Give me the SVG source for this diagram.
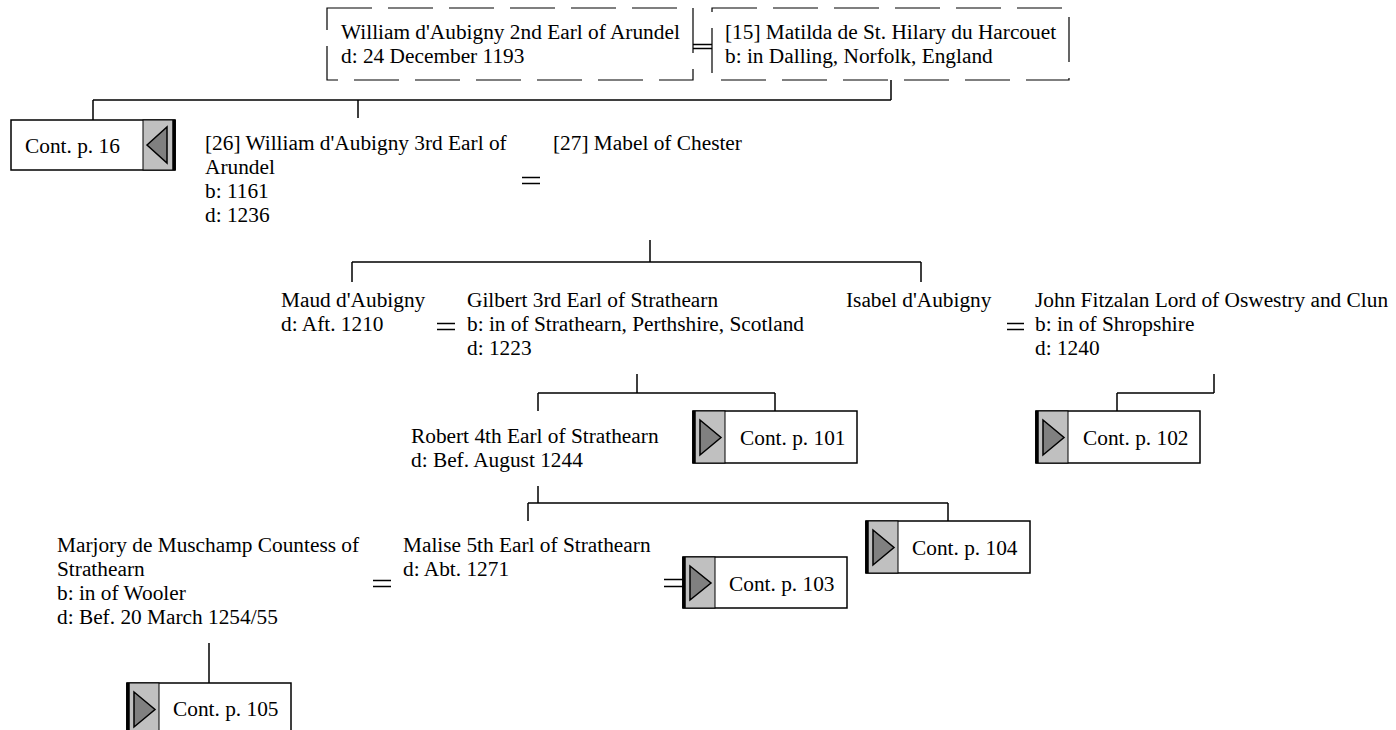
<svg xmlns="http://www.w3.org/2000/svg" width="1396" height="730" viewBox="0 0 1396 730">
<style>
text{font-family:"Liberation Serif","Times New Roman",serif;font-size:21.33px;fill:#000}
.ln{stroke:#000;stroke-width:1.5;fill:none}
.dash{fill:#fff;stroke:#000;stroke-width:1.2;stroke-dasharray:45 16}
.cb{fill:#fff;stroke:#000;stroke-width:1.5}
.gr{fill:#c0c0c0;stroke:#000;stroke-width:1}
.tri{fill:#808080;stroke:#000;stroke-width:1.5;stroke-linejoin:miter}
.thick{stroke:#000;stroke-width:3.5;fill:none}
</style>
<rect width="1396" height="730" fill="#fff"/>
<g id="connectors">
<path class="ln" d="M891,80V100M93,100H891M93,100V120M358,100V118"/>
<path class="ln" d="M693,44.5H712M693,48.5H712"/>
<path class="ln" d="M522,177.5H540M522,183.5H540"/>
<path class="ln" d="M650,240V262M352,262H921M352,262V282M921,262V282"/>
<path class="ln" d="M437,323.5H455M437,329.5H455"/>
<path class="ln" d="M1007,323.5H1024M1007,329.5H1024"/>
<path class="ln" d="M637,374V393M538,393H775M538,393V411M775,393V411"/>
<path class="ln" d="M1214,374V393M1117,393H1214M1117,393V411"/>
<path class="ln" d="M538,486V503M528,503H948M528,503V521M948,503V521"/>
<path class="ln" d="M373,580.5H391M373,586.5H391"/>
<path class="ln" d="M664,579.5H683M664,586.5H683"/>
<path class="ln" d="M209,643V683"/>
</g>
<g id="n_william2">
<rect class="dash" x="327" y="8" width="366" height="72"/>
<text x="341" y="39">William d'Aubigny 2nd Earl of Arundel</text>
<text x="341" y="63">d: 24 December 1193</text>
</g>
<g id="n_matilda">
<rect class="dash" x="712" y="8" width="357" height="72"/>
<text x="725" y="39">[15] Matilda de St. Hilary du Harcouet</text>
<text x="725" y="63">b: in Dalling, Norfolk, England</text>
</g>
<g id="n_cont16">
<rect class="cb" x="11" y="120" width="164" height="50"/>
<rect class="gr" x="143" y="120" width="32" height="50"/>
<path class="thick" d="M174,120V170"/>
<path class="tri" d="M147,145L167,127V163Z"/>
<text x="25" y="153">Cont. p. 16</text>
</g>
<g id="n_william3">
<text x="205" y="150">[26] William d'Aubigny 3rd Earl of</text>
<text x="205" y="174">Arundel</text>
<text x="205" y="198">b: 1161</text>
<text x="205" y="222">d: 1236</text>
</g>
<g id="n_mabel">
<text x="553" y="150">[27] Mabel of Chester</text>
</g>
<g id="n_maud">
<text x="281" y="307">Maud d'Aubigny</text>
<text x="281" y="331">d: Aft. 1210</text>
</g>
<g id="n_gilbert">
<text x="467" y="307">Gilbert 3rd Earl of Strathearn</text>
<text x="467" y="331">b: in of Strathearn, Perthshire, Scotland</text>
<text x="467" y="355">d: 1223</text>
</g>
<g id="n_isabel">
<text x="846" y="307">Isabel d'Aubigny</text>
</g>
<g id="n_john">
<text x="1035" y="307">John Fitzalan Lord of Oswestry and Clun</text>
<text x="1035" y="331">b: in of Shropshire</text>
<text x="1035" y="355">d: 1240</text>
</g>
<g id="n_robert">
<text x="411" y="443">Robert 4th Earl of Strathearn</text>
<text x="411" y="467">d: Bef. August 1244</text>
</g>
<g id="n_cont101">
<rect class="cb" x="693" y="411" width="164" height="52"/>
<rect class="gr" x="693" y="411" width="32" height="52"/>
<path class="thick" d="M694,411V463"/>
<path class="tri" d="M700,420L721,437.5L700,455Z"/>
<text x="740" y="445">Cont. p. 101</text>
</g>
<g id="n_cont102">
<rect class="cb" x="1036" y="411" width="164" height="52"/>
<rect class="gr" x="1036" y="411" width="32" height="52"/>
<path class="thick" d="M1037,411V463"/>
<path class="tri" d="M1043,420L1064,437.5L1043,455Z"/>
<text x="1083" y="445">Cont. p. 102</text>
</g>
<g id="n_marjory">
<text x="57" y="552">Marjory de Muschamp Countess of</text>
<text x="57" y="576">Strathearn</text>
<text x="57" y="600">b: in of Wooler</text>
<text x="57" y="624">d: Bef. 20 March 1254/55</text>
</g>
<g id="n_malise">
<text x="403" y="552">Malise 5th Earl of Strathearn</text>
<text x="403" y="576">d: Abt. 1271</text>
</g>
<g id="n_cont104">
<rect class="cb" x="866" y="521" width="164" height="52"/>
<rect class="gr" x="866" y="521" width="32" height="52"/>
<path class="thick" d="M867,521V573"/>
<path class="tri" d="M873,530L894,547.5L873,565Z"/>
<text x="912" y="555">Cont. p. 104</text>
</g>
<g id="n_cont103">
<rect class="cb" x="683" y="557" width="164" height="51"/>
<rect class="gr" x="683" y="557" width="32" height="51"/>
<path class="thick" d="M684,557V608"/>
<path class="tri" d="M690,566L711,583L690,600Z"/>
<text x="729" y="591">Cont. p. 103</text>
</g>
<g id="n_cont105">
<rect class="cb" x="127" y="683" width="164" height="52"/>
<rect class="gr" x="127" y="683" width="32" height="52"/>
<path class="thick" d="M128,683V735"/>
<path class="tri" d="M134,692L155,709.5L134,727Z"/>
<text x="173" y="716">Cont. p. 105</text>
</g>
</svg>
